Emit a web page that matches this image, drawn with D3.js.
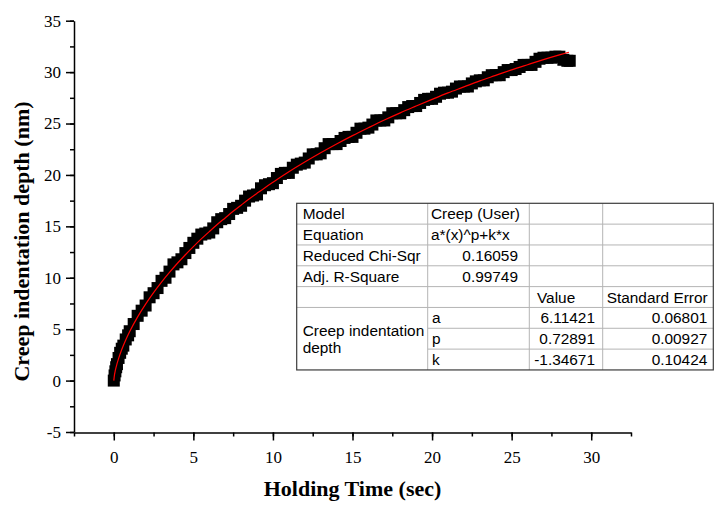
<!DOCTYPE html>
<html>
<head>
<meta charset="utf-8">
<script src="https://cdnjs.cloudflare.com/ajax/libs/d3/7.8.5/d3.min.js"></script>
<style>
    body { margin: 0; background: #fff; }
    svg { display: block; }
</style>
</head>
<body>
<div id="chart"></div>
<script>

// measured creep data (holding time in s, depth in nm)
var holdTime = [0, 0.05, 0.1, 0.15, 0.2, 0.3, 0.4, 0.5, 0.6, 0.75, 0.9, 1.0,
    1.25, 1.5, 1.75, 2.0, 2.25, 2.5, 2.75, 3.0, 3.25, 3.5, 3.75, 4.0,
    4.25, 4.5, 4.75, 5.0, 5.25, 5.5, 5.75, 6.0, 6.25, 6.5, 6.75, 7.0,
    7.25, 7.5, 7.75, 8.0, 8.25, 8.5, 8.75, 9.0, 9.25, 9.5, 9.75, 10.0,
    10.25, 10.5, 10.75, 11.0, 11.25, 11.5, 11.75, 12.0, 12.25, 12.5, 12.75, 13.0,
    13.25, 13.5, 13.75, 14.0, 14.25, 14.5, 14.75, 15.0, 15.25, 15.5, 15.75, 16.0,
    16.25, 16.5, 16.75, 17.0, 17.25, 17.5, 17.75, 18.0, 18.25, 18.5, 18.75, 19.0,
    19.25, 19.5, 19.75, 20.0, 20.25, 20.5, 20.75, 21.0, 21.25, 21.5, 21.75, 22.0,
    22.25, 22.5, 22.75, 23.0, 23.25, 23.5, 23.75, 24.0, 24.25, 24.5, 24.75, 25.0,
    25.25, 25.5, 25.75, 26.0, 26.25, 26.5, 26.75, 27.0, 27.25, 27.5, 27.75, 28.0,
    28.25, 28.5, 28.65];

var depth = [0, 0.5, 0.9, 1.3, 1.6, 2.2, 2.7, 3.1, 3.4, 4.0, 4.4, 4.8,
    5.5, 6.3, 6.8, 7.3, 8.1, 8.5, 9.0, 9.7, 10.0, 10.6, 11.3, 11.5,
    11.8, 12.4, 12.9, 13.4, 13.8, 14.2, 14.3, 14.4, 14.8, 15.4, 15.7, 15.8,
    16.2, 16.7, 16.8, 17.0, 17.5, 17.9, 18.0, 18.1, 18.7, 19.0, 19.1, 19.2,
    19.7, 20.1, 20.2, 20.2, 20.7, 21.0, 21.1, 21.2, 21.6, 22.0, 22.0, 22.1,
    22.6, 23.0, 23.0, 23.0, 23.3, 23.6, 23.7, 23.7, 24.1, 24.5, 24.5, 24.6,
    24.9, 25.3, 25.3, 25.3, 25.6, 26.0, 26.0, 26.0, 26.3, 26.6, 26.7, 26.7,
    27.0, 27.3, 27.4, 27.4, 27.6, 27.9, 28.0, 28.0, 28.1, 28.4, 28.6, 28.6,
    28.6, 28.9, 29.1, 29.2, 29.2, 29.5, 29.7, 29.7, 29.7, 30.0, 30.2, 30.2,
    30.3, 30.5, 30.7, 30.7, 30.7, 31.0, 31.3, 31.4, 31.4, 31.4, 31.5, 31.5,
    31.2, 31.1, 31.1];

// fitted curve, sampled off the red line
var fitTime = [0, 0.05, 0.1, 0.2, 0.3, 0.5, 0.75, 1, 1.5, 2, 2.5, 3, 3.5, 4, 4.5, 5,
    5.5, 6, 6.5, 7, 7.5, 8, 8.5, 9, 9.5, 10, 11, 12, 13, 14, 15, 16, 17, 18,
    19, 20, 21, 22, 23, 24, 25, 26, 27, 28, 28.6];
var fitDepth = [0, 0.62, 1.01, 1.62, 2.14, 3.02, 3.95, 4.77, 6.20, 7.44, 8.56, 9.58,
    10.52, 11.41, 12.24, 13.03, 13.78, 14.49, 15.18, 15.82, 16.46, 17.06, 17.65, 18.21,
    18.76, 19.28, 20.30, 21.25, 22.15, 23.01, 23.82, 24.59, 25.34, 26.04, 26.70, 27.35,
    27.98, 28.56, 29.15, 29.68, 30.22, 30.72, 31.21, 31.67, 31.93];

var xTicks = [0, 5, 10, 15, 20, 25, 30];
var yTicks = [-5, 0, 5, 10, 15, 20, 25, 30, 35];

// fit report table
var tableRows = [
    ["Model", "Creep (User)", "", ""],
    ["Equation", "a*(x)^p+k*x", "", ""],
    ["Reduced Chi-Sqr", "0.16059", "", ""],
    ["Adj. R-Square", "0.99749", "", ""],
    ["", "", "Value", "Standard Error"]
];
var paramNames = ["a", "p", "k"];
var paramValues = ["6.11421", "0.72891", "-1.34671"];
var paramErrors = ["0.06801", "0.00927", "0.10424"];
var groupLabel = ["Creep indentation", "depth"];


var W = 724, H = 507;
var plot = {left: 74, right: 631, top: 20.7, bottom: 432};

var svg = d3.select("#chart").append("svg")
    .attr("width", W)
    .attr("height", H);

var x = d3.scaleLinear().domain([-2.5, 32.5]).range([plot.left, plot.right]);
var y = d3.scaleLinear().domain([-5, 35]).range([plot.bottom, plot.top]);

var serif = "'Liberation Serif', 'Times New Roman', serif";
var sans = "'Liberation Sans', Arial, sans-serif";

// plain hyphen for negatives, like the original
var fmt = function(d){ return String(d); };

function drawAxes(){

    var minorX = d3.range(-2.5, 32.6, 2.5);
    var minorY = d3.range(-5, 35.1, 2.5);

    var xAxis = svg.append("g")
        .attr("transform", "translate(0," + (plot.bottom + 0.5) + ")")
        .call(d3.axisBottom(x).tickValues(minorX).tickSize(4).tickFormat(""));
    var xMajor = svg.append("g")
        .attr("transform", "translate(0," + (plot.bottom + 0.5) + ")")
        .call(d3.axisBottom(x).tickValues(xTicks).tickSize(8).tickPadding(10).tickSizeOuter(0).tickFormat(fmt));

    var yAxis = svg.append("g")
        .attr("transform", "translate(" + plot.left + ",0)")
        .call(d3.axisLeft(y).tickValues(minorY).tickSize(4).tickFormat(""));
    var yMajor = svg.append("g")
        .attr("transform", "translate(" + plot.left + ",0)")
        .call(d3.axisLeft(y).tickValues(yTicks).tickSize(8).tickPadding(5).tickSizeOuter(0).tickFormat(fmt));

    [xAxis, xMajor, yAxis, yMajor].forEach(function(g){
        g.selectAll("path, line").attr("stroke", "#000").attr("stroke-width", 1.5);
        g.selectAll("text")
            .attr("font-family", serif)
            .attr("font-size", "17px")
            .attr("fill", "#000");
    });
    xAxis.select(".domain").remove();
    yAxis.select(".domain").remove();

    svg.append("text")
        .attr("x", (plot.left + plot.right) / 2)
        .attr("y", 496)
        .attr("text-anchor", "middle")
        .attr("font-family", serif)
        .attr("font-weight", "bold")
        .attr("font-size", "22px")
        .text("Holding Time (sec)");

    svg.append("text")
        .attr("transform", "translate(29,241.5) rotate(-90)")
        .attr("text-anchor", "middle")
        .attr("font-family", serif)
        .attr("font-weight", "bold")
        .attr("font-size", "22px")
        .text("Creep indentation depth (nm)");
}

function drawData(){

    var pts = holdTime.map(function(t, i){ return [t, depth[i]]; });
    var s = 12;

    svg.append("g")
        .selectAll("rect")
        .data(pts)
        .join("rect")
        .attr("x", function(d){ return x(d[0]) - s / 2; })
        .attr("y", function(d){ return y(d[1]) - s / 2; })
        .attr("width", s)
        .attr("height", s)
        .attr("fill", "#000");

    var fit = fitTime.map(function(t, i){ return [t, fitDepth[i]]; });
    var line = d3.line()
        .x(function(d){ return x(d[0]); })
        .y(function(d){ return y(d[1]); })
        .curve(d3.curveMonotoneX);

    svg.append("path")
        .datum(fit)
        .attr("d", line)
        .attr("fill", "none")
        .attr("stroke", "#ff0000")
        .attr("stroke-width", 1.2);
}

function drawTable(){

    var left = 296.7, top = 203.3, rowH = 20.83;
    var cols = [296.7, 427.7, 529.3, 602.7, 713.3];
    var nRows = 8;
    var bottom = top + nRows * rowH;
    var g = svg.append("g").attr("font-family", sans).attr("font-size", "15.4px").attr("fill", "#000");

    g.append("rect")
        .attr("x", left).attr("y", top)
        .attr("width", cols[4] - left).attr("height", bottom - top)
        .attr("fill", "#fff");

    var grid = "#b4b4b4";
    // horizontal rules (col1 skips the merged cell)
    d3.range(1, nRows).forEach(function(i){
        var yy = top + i * rowH;
        var x0 = i > 5 ? cols[1] : left;
        g.append("line").attr("x1", x0).attr("x2", cols[4])
            .attr("y1", yy).attr("y2", yy).attr("stroke", grid);
    });
    cols.slice(1, 4).forEach(function(cx){
        g.append("line").attr("x1", cx).attr("x2", cx)
            .attr("y1", top).attr("y2", bottom).attr("stroke", grid);
    });
    g.append("rect")
        .attr("x", left).attr("y", top)
        .attr("width", cols[4] - left).attr("height", bottom - top)
        .attr("fill", "none").attr("stroke", "#3c3c3c").attr("stroke-width", 1.2);

    var base = function(i){ return top + i * rowH + 16; };

    tableRows.forEach(function(r, i){
        g.append("text").attr("x", 302.7).attr("y", base(i)).text(r[0]);
        if (i < 2) {
            g.append("text").attr("x", 431).attr("y", base(i)).text(r[1]);
        } else {
            g.append("text").attr("x", 518).attr("y", base(i)).attr("text-anchor", "end").text(r[1]);
        }
        g.append("text").attr("x", 537).attr("y", base(i)).text(r[2]);
        g.append("text").attr("x", 606.7).attr("y", base(i)).text(r[3]);
    });

    paramNames.forEach(function(p, j){
        var i = 5 + j;
        g.append("text").attr("x", 432).attr("y", base(i)).text(p);
        g.append("text").attr("x", 595).attr("y", base(i)).attr("text-anchor", "end").text(paramValues[j]);
        g.append("text").attr("x", 707.3).attr("y", base(i)).attr("text-anchor", "end").text(paramErrors[j]);
    });

    groupLabel.forEach(function(s, j){
        g.append("text").attr("x", 302.7).attr("y", 335.5 + j * 17.5).text(s);
    });
}

drawData();
drawAxes();
drawTable();

</script>
</body>
</html>
